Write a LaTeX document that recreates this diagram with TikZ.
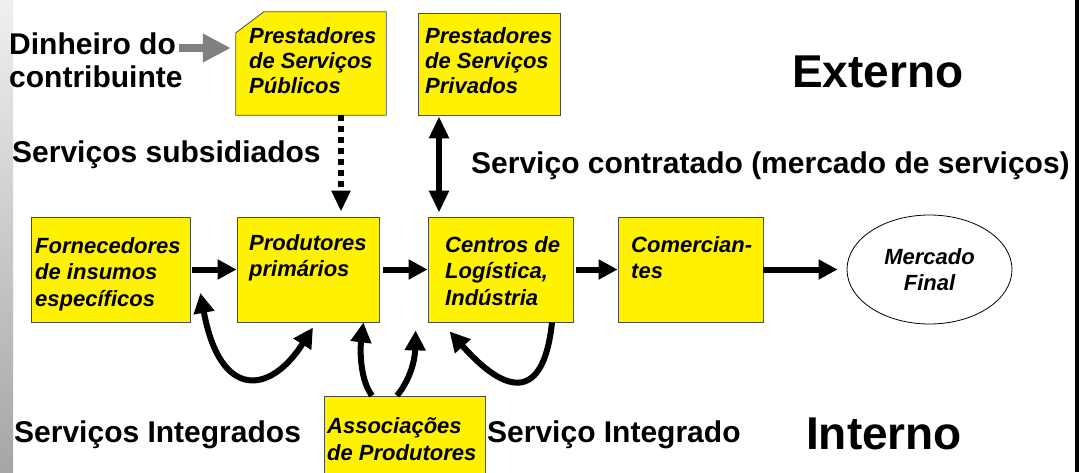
\documentclass[tikz,border=0pt]{standalone}
\usepackage{fontspec}
\setmainfont{Liberation Sans}
\usetikzlibrary{arrows.meta,shapes.geometric}

\begin{document}
\begin{tikzpicture}[
  x=1pt,
  y=-1pt,
  box/.style={
    draw=black!70,
    fill=yellow,
    line width=0.8pt,
    inner sep=0pt
  },
  box text/.style={
    anchor=base west,
    align=left,
    inner sep=0pt,
    font=\fontsize{22}{26.5}\selectfont\bfseries\itshape
  },
  big label/.style={
    anchor=base west,
    align=left,
    inner sep=0pt,
    font=\fontsize{30}{33}\selectfont\bfseries
  },
  region label/.style={
    anchor=base west,
    inner sep=0pt,
    font=\fontsize{46}{50}\selectfont\bfseries
  },
  flow/.style={
    line width=6pt,
    -{Triangle[length=19pt,width=19pt]}
  },
  loop arrow/.style={
    line width=6pt,
    -{Triangle[length=20pt,width=20pt]}
  },
  subsidy/.style={
    line width=6pt,
    dash pattern=on 6pt off 5pt,
    -{Triangle[length=21pt,width=18pt]}
  },
  contract/.style={
    line width=6pt,
    {Triangle[length=22pt,width=19pt]}-{Triangle[length=22pt,width=19pt]}
  },
  money/.style={
    draw=black!50,
    line width=8pt,
    -{Triangle[length=28pt,width=27pt]}
  },
]
\useasboundingbox (0,0) rectangle (1085,472);

% frame
\shade[top color=black!6, bottom color=black!35] (0,0) rectangle (13,472);
\fill (1075,0) rectangle (1079,472);

% chain boxes
\node[box, minimum width=159pt, minimum height=105pt] (fo) at (110.5,269.5) {};
\node[box, minimum width=142pt, minimum height=105pt] (pp) at (308,269.5) {};
\node[box, minimum width=145pt, minimum height=105pt] (ce) at (500.5,269.5) {};
\node[box, minimum width=145pt, minimum height=105pt] (co) at (690.5,269.5) {};
\node[ellipse, draw, line width=0.8pt, inner sep=0pt,
  minimum width=165pt, minimum height=109pt, align=center,
  font=\fontsize{22}{26}\selectfont\bfseries\itshape] (mf) at (929.5,269.5) {Mercado\\Final};

% multi-line texts sit on their last baseline
\node[box text] (fo-t) at (35,306) {Fornecedores\\de insumos\\específicos};
\node[box text] (pp-t) at (249,276.5) {Produtores\\primários};
\node[box text] (ce-t) at (445,305) {Centros de\\Logística,\\Indústria};
\node[box text] (co-t) at (631,278.5) {Comercian-\\tes};

% service providers
\node[minimum width=150pt, minimum height=103pt, inner sep=0pt] (pub) at (311,63.5) {};
\filldraw[box] (pub.south west) -- ([yshift=-21pt]pub.north west)
  -- ([xshift=28pt]pub.north west) -- (pub.north east)
  -- (pub.south east) -- cycle;
\node[box, minimum width=142pt, minimum height=102pt] (pri) at (489,64) {};
\node[box, minimum width=161pt, minimum height=80pt] (as) at (404.5,436) {};

\node[box text, font=\fontsize{22}{25}\selectfont\bfseries\itshape] (pub-t) at (249,93) {Prestadores\\de Serviços\\Públicos};
\node[box text, font=\fontsize{22}{25}\selectfont\bfseries\itshape] (pri-t) at (425,93) {Prestadores\\de Serviços\\Privados};
\node[box text, font=\fontsize{22}{27}\selectfont\bfseries\itshape] (as-t) at (327,460) {Associações\\de Produtores};

% labels
\node[big label] (din) at (9,87) {Dinheiro do\\contribuinte};
\node[big label] (sub) at (12,162) {Serviços subsidiados};
\node[big label] (cont) at (471,173) {Serviço contratado (mercado de serviços)};
\node[big label] (int-l) at (14,442) {Serviços Integrados};
\node[big label] (int-r) at (487,442) {Serviço Integrado};
\node[region label] (ext) at (792,87) {Externo};
\node[region label] (intn) at (806,449) {Interno};

% main chain
\draw[flow, shorten <=2pt] (fo) -- (pp);
\draw[flow, shorten <=4pt] (pp) -- (ce);
\draw[flow, shorten <=3pt] (ce) -- (co);
\draw[flow, shorten >=9pt] (co) -- (mf);

% services from outside
\coordinate (din-end) at (179,48);
\draw[money, shorten >=5pt] (din-end) -- (din-end -| pub.west);
\coordinate (sub-x) at ([xshift=30pt]pub.south);
\draw[subsidy, shorten >=5pt] (sub-x) -- (sub-x |- pp.north);
\coordinate (cont-x) at ([xshift=-50pt]pri.south);
\draw[contract, shorten <=1pt, shorten >=4pt] (cont-x) -- (cont-x |- ce.north);

% integrated services
\draw[loop arrow, {Triangle[length=20pt,width=20pt]}-{Triangle[length=20pt,width=20pt]}]
  ([shift={(10,23.5)}]fo.east) .. controls (220,400) and (270,395) .. ([shift={(5,5)}]pp.south);
\draw[loop arrow] ([xshift=-32.5pt]as.north) .. controls (360,380) and (360,350) .. ([xshift=-16pt]pp.south east);
\draw[loop arrow] ([xshift=-7.5pt]as.north) .. controls (410,380) and (415,360) .. ([shift={(-12,8)}]ce.south west);
\draw[loop arrow] ([xshift=51.5pt]ce.south) .. controls (545,390) and (515,405) .. ([shift={(22,9)}]ce.south west);
\end{tikzpicture}
\end{document}
